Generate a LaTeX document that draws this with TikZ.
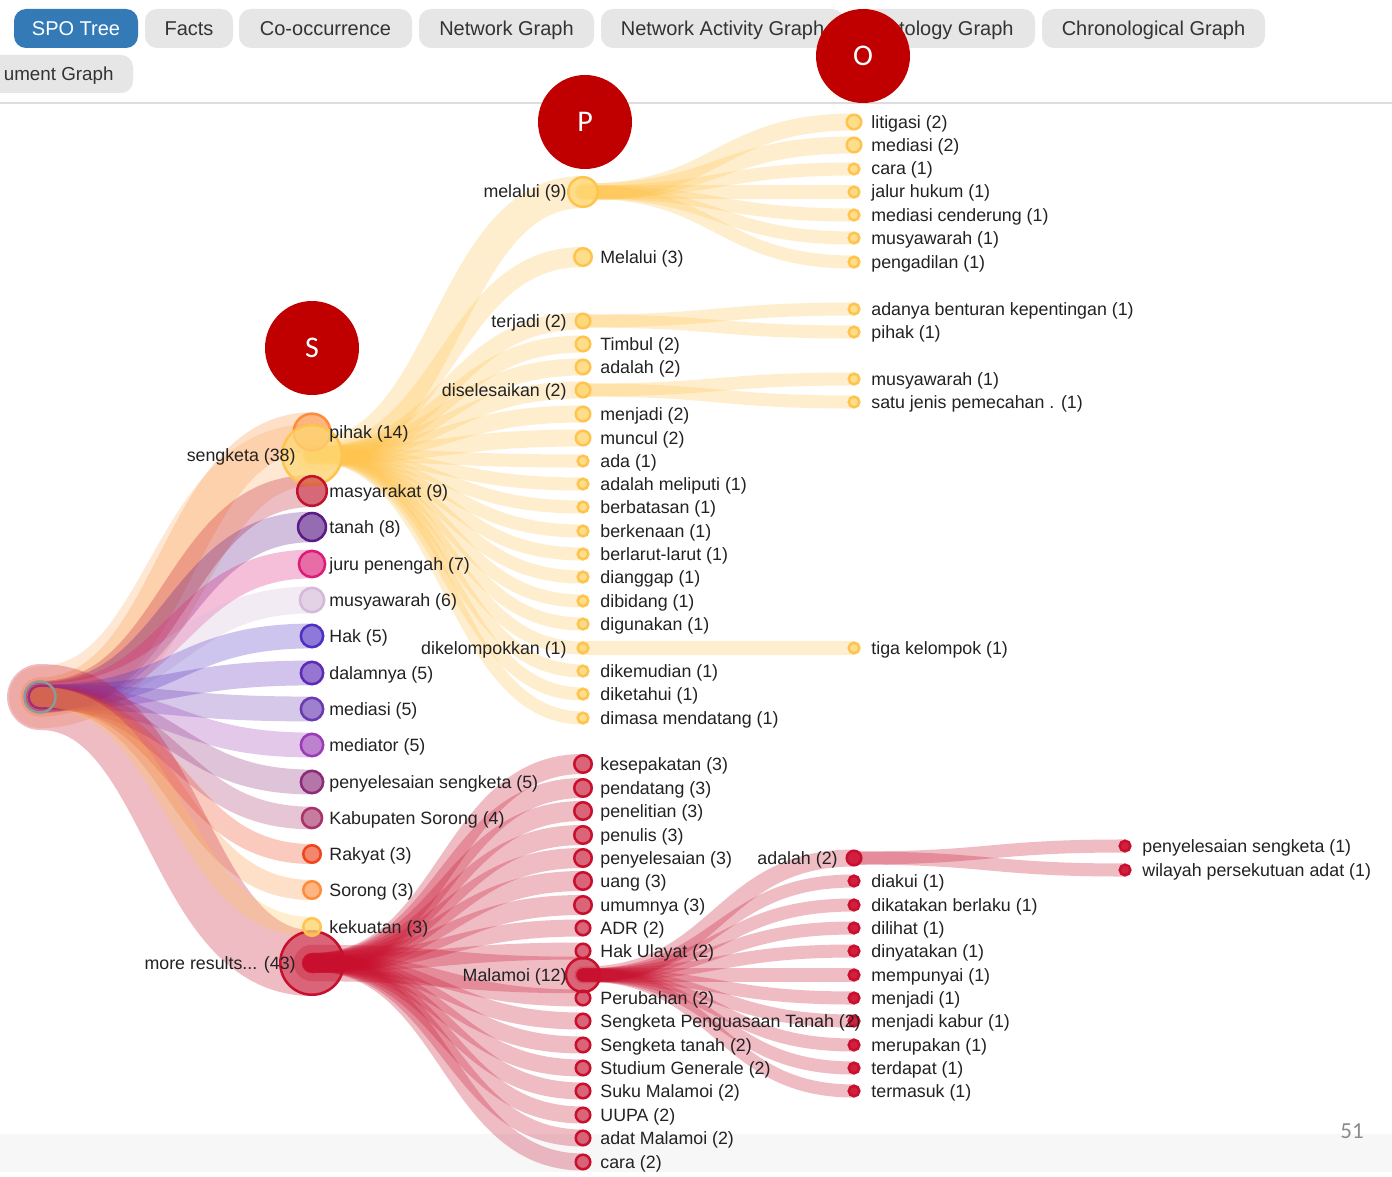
\documentclass[tikz,border=0pt]{standalone}
\usepackage{fontspec}
\setmainfont{Liberation Sans}
\newfontfamily\calfont{Carlito}
\usetikzlibrary{calc}
\pgfdeclarelayer{back}
\pgfdeclarelayer{links}
\pgfdeclarelayer{labels}
\pgfdeclarelayer{top}
\pgfsetlayers{back,links,main,labels,top}
\definecolor{txt}{HTML}{222222}
\definecolor{tabtxt}{HTML}{333333}
\definecolor{tabgray}{HTML}{E6E6E6}
\definecolor{tabblue}{HTML}{337AB7}
\definecolor{sepgray}{HTML}{DDDDDD}
\definecolor{bandgray}{HTML}{F7F7F7}
\definecolor{pagegray}{HTML}{8C8C8C}
\definecolor{markred}{HTML}{C00000}
\definecolor{rootgray}{HTML}{8A9A98}
\definecolor{cOr}{HTML}{FD8D3C}
\definecolor{cSeng}{HTML}{FDAE61}
\definecolor{cYel}{HTML}{FEC44F}
\definecolor{cYelF}{HTML}{FED976}
\definecolor{cRed}{HTML}{C8102E}
\definecolor{cLeaf}{HTML}{D11F40}
\definecolor{cMasy}{HTML}{C0142D}
\definecolor{cTanah}{HTML}{5B1A86}
\definecolor{cJuru}{HTML}{DD1C77}
\definecolor{cMusy}{HTML}{D4B9DA}
\definecolor{cHak}{HTML}{4F2FC2}
\definecolor{cDalam}{HTML}{5D2BB8}
\definecolor{cMedi}{HTML}{6A3AB3}
\definecolor{cMedr}{HTML}{9B3CB7}
\definecolor{cPeny}{HTML}{8B2B7A}
\definecolor{cKab}{HTML}{A8326A}
\definecolor{cRak}{HTML}{F0441B}
\definecolor{cSor}{HTML}{FD8D3C}
\tikzset{
  nd/.style={circle, inner sep=0pt, line width=1.25pt},
  ringnode/.style={nd, draw=#1, fill=#1, fill opacity=0.5},
  yelnode/.style={nd, draw=cYel, fill=cYelF, fill opacity=0.75},
  soliddot/.style={nd, draw=cRed, fill=cLeaf},
  linkband/.style={draw opacity=0.28, line cap=round},
  lbl/.style={inner sep=0pt, text=txt, font=\fontsize{8.9}{10.7}\selectfont},
  tabbox/.style={rectangle, rounded corners=6pt, fill=tabgray, text=tabtxt, inner sep=0pt,
    minimum height=19.5pt, text height=7.2pt, text depth=0pt, font=\fontsize{10}{12}\selectfont},
  markc/.style={circle, fill=markred, minimum size=47pt, inner sep=0pt, text=white,
    text height=9.6pt, text depth=0pt, font=\calfont\fontsize{15}{18}\selectfont}
}
\newcommand\spo[9]{%
  \pgfmathsetmacro\spor{1.76+4.76*sqrt(#5)}%
  \pgfmathsetmacro\spod{\spor-1.25}%
  \node[#6, minimum size=\spod pt] (#2) at (#3,#4) {};
  \begin{pgfonlayer}{links}
    \draw[linkband, line width=\spor pt, draw=#7] (#1.center) to[out=0,in=180,distance=68pt] (#2.center);
  \end{pgfonlayer}
  \begin{pgfonlayer}{labels}
    \if l#8\relax
      \node[lbl, anchor=base east] (#2-t) at ($(#2.center)+(-16,6)$) {#9};
    \else
      \node[lbl, anchor=base west] (#2-t) at ($(#2.center)+(17,6)$) {#9};
    \fi
  \end{pgfonlayer}
}
\begin{document}
\begin{tikzpicture}[x=0.5pt,y=-0.5pt]
\useasboundingbox (0,0) rectangle (1392,1177);
\begin{pgfonlayer}{back}
  \fill[white] (0,0) rectangle (1392,1177);
  \fill[bandgray] (0,1134) rectangle (1392,1172);
  \draw[sepgray, line width=0.75pt] (0,103) -- (1392,103);
  \node[tabbox, fill=tabblue, text=white, minimum width=62pt] (tab1) at (76,28.5) {SPO Tree};
  \node[tabbox, minimum width=44pt] (tab2) at (189,28.5) {Facts};
  \node[tabbox, minimum width=86.5pt] (tab3) at (325.5,28.5) {Co-occurrence};
  \node[tabbox, minimum width=87.5pt] (tab4) at (506.5,28.5) {Network Graph};
  \node[tabbox, minimum width=121.5pt] (tab5) at (722.5,28.5) {Network Activity Graph};
  \node[tabbox, minimum width=92pt] (tab6) at (943,28.5) {Ontology Graph};
  \node[tabbox, minimum width=111.5pt] (tab7) at (1153.5,28.5) {Chronological Graph};
  \begin{scope}
    \clip (0,0) rectangle (1392,1177);
    \node[tabbox, minimum width=86.5pt, minimum height=19pt] (tab8) at (46.5,74) {};
  \end{scope}
  \node[inner sep=0pt, text=tabtxt, anchor=east, text height=7pt, text depth=0pt,
    font=\fontsize{9.4}{11}\selectfont] (tab8t) at (114,74) {ument Graph};
\end{pgfonlayer}

\node[circle, draw=rootgray, line width=1.25pt, minimum size=15.5pt, inner sep=0pt] (root) at (40,697) {};

% level 1
\spo{root}{pihak}{312}{432}{14}{ringnode=cOr}{cOr}{r}{pihak (14)}
\spo{root}{seng}{312}{455}{38}{yelnode}{cSeng}{l}{sengketa (38)}
\spo{root}{masy}{312}{491}{9}{ringnode=cMasy}{cMasy}{r}{masyarakat (9)}
\spo{root}{tanah}{312}{527}{8}{ringnode=cTanah}{cTanah}{r}{tanah (8)}
\spo{root}{juru}{312}{564}{7}{ringnode=cJuru}{cJuru}{r}{juru penengah (7)}
\spo{root}{musy}{312}{600}{6}{ringnode=cMusy}{cMusy}{r}{musyawarah (6)}
\spo{root}{hak}{312}{636}{5}{ringnode=cHak}{cHak}{r}{Hak (5)}
\spo{root}{dalam}{312}{673}{5}{ringnode=cDalam}{cDalam}{r}{dalamnya (5)}
\spo{root}{medi}{312}{709}{5}{ringnode=cMedi}{cMedi}{r}{mediasi (5)}
\spo{root}{medr}{312}{745}{5}{ringnode=cMedr}{cMedr}{r}{mediator (5)}
\spo{root}{peny}{312}{782}{5}{ringnode=cPeny}{cPeny}{r}{penyelesaian sengketa (5)}
\spo{root}{kab}{312}{818}{4}{ringnode=cKab}{cKab}{r}{Kabupaten Sorong (4)}
\spo{root}{rak}{312}{854}{3}{ringnode=cRak}{cRak}{r}{Rakyat (3)}
\spo{root}{sor}{312}{890}{3}{ringnode=cSor}{cSor}{r}{Sorong (3)}
\spo{root}{more}{312}{963}{43}{ringnode=cRed}{cRed}{l}{more results... (43)}
\spo{root}{kek}{312}{927}{3}{yelnode}{cYel}{r}{kekuatan (3)}

% level 2, yellow branch
\spo{seng}{melalui}{583}{192}{9}{yelnode}{cYel}{l}{melalui (9)}
\spo{seng}{melaluiB}{583}{257}{3}{yelnode}{cYel}{r}{Melalui (3)}
\spo{seng}{terjadi}{583}{321}{2}{yelnode}{cYel}{l}{terjadi (2)}
\spo{seng}{timbul}{583}{344}{2}{yelnode}{cYel}{r}{Timbul (2)}
\spo{seng}{adalahY}{583}{367}{2}{yelnode}{cYel}{r}{adalah (2)}
\spo{seng}{disel}{583}{390}{2}{yelnode}{cYel}{l}{diselesaikan (2)}
\spo{seng}{menjadiY}{583}{414}{2}{yelnode}{cYel}{r}{menjadi (2)}
\spo{seng}{muncul}{583}{438}{2}{yelnode}{cYel}{r}{muncul (2)}
\spo{seng}{ada}{583}{461}{1}{yelnode}{cYel}{r}{ada (1)}
\spo{seng}{adalahm}{583}{484}{1}{yelnode}{cYel}{r}{adalah meliputi (1)}
\spo{seng}{berbatasan}{583}{507}{1}{yelnode}{cYel}{r}{berbatasan (1)}
\spo{seng}{berkenaan}{583}{531}{1}{yelnode}{cYel}{r}{berkenaan (1)}
\spo{seng}{berlarut}{583}{554}{1}{yelnode}{cYel}{r}{berlarut-larut (1)}
\spo{seng}{dianggap}{583}{577}{1}{yelnode}{cYel}{r}{dianggap (1)}
\spo{seng}{dibidang}{583}{601}{1}{yelnode}{cYel}{r}{dibidang (1)}
\spo{seng}{digunakan}{583}{624}{1}{yelnode}{cYel}{r}{digunakan (1)}
\spo{seng}{dikel}{583}{648}{1}{yelnode}{cYel}{l}{dikelompokkan (1)}
\spo{seng}{dikemudian}{583}{671}{1}{yelnode}{cYel}{r}{dikemudian (1)}
\spo{seng}{diketahui}{583}{694}{1}{yelnode}{cYel}{r}{diketahui (1)}
\spo{seng}{dimasa}{583}{718}{1}{yelnode}{cYel}{r}{dimasa mendatang (1)}

% level 3, yellow branch
\spo{melalui}{litigasi}{854}{122}{2}{yelnode}{cYel}{r}{litigasi (2)}
\spo{melalui}{mediasiY}{854}{145}{2}{yelnode}{cYel}{r}{mediasi (2)}
\spo{melalui}{caraY}{854}{169}{1}{yelnode}{cYel}{r}{cara (1)}
\spo{melalui}{jalur}{854}{192}{1}{yelnode}{cYel}{r}{jalur hukum (1)}
\spo{melalui}{medcend}{854}{215}{1}{yelnode}{cYel}{r}{mediasi cenderung (1)}
\spo{melalui}{musyA}{854}{238}{1}{yelnode}{cYel}{r}{musyawarah (1)}
\spo{melalui}{pengadilan}{854}{262}{1}{yelnode}{cYel}{r}{pengadilan (1)}
\spo{terjadi}{adanya}{854}{309}{1}{yelnode}{cYel}{r}{adanya benturan kepentingan (1)}
\spo{terjadi}{pihakA}{854}{332}{1}{yelnode}{cYel}{r}{pihak (1)}
\spo{disel}{musyB}{854}{379}{1}{yelnode}{cYel}{r}{musyawarah (1)}
\spo{disel}{satu}{854}{402}{1}{yelnode}{cYel}{r}{satu jenis pemecahan . (1)}
\spo{dikel}{tiga}{854}{648}{1}{yelnode}{cYel}{r}{tiga kelompok (1)}

% level 2, red branch
\spo{more}{kesep}{583}{764}{3}{ringnode=cRed}{cRed}{r}{kesepakatan (3)}
\spo{more}{pendatang}{583}{788}{3}{ringnode=cRed}{cRed}{r}{pendatang (3)}
\spo{more}{penelitian}{583}{811}{3}{ringnode=cRed}{cRed}{r}{penelitian (3)}
\spo{more}{penulis}{583}{835}{3}{ringnode=cRed}{cRed}{r}{penulis (3)}
\spo{more}{penyelR}{583}{858}{3}{ringnode=cRed}{cRed}{r}{penyelesaian (3)}
\spo{more}{uang}{583}{881}{3}{ringnode=cRed}{cRed}{r}{uang (3)}
\spo{more}{umumnya}{583}{905}{3}{ringnode=cRed}{cRed}{r}{umumnya (3)}
\spo{more}{adr}{583}{928}{2}{ringnode=cRed}{cRed}{r}{ADR (2)}
\spo{more}{hakul}{583}{951}{2}{ringnode=cRed}{cRed}{r}{Hak Ulayat (2)}
\spo{more}{malamoi}{583}{975}{12}{ringnode=cRed}{cRed}{l}{Malamoi (12)}
\spo{more}{perubahan}{583}{998}{2}{ringnode=cRed}{cRed}{r}{Perubahan (2)}
\spo{more}{spt}{583}{1021}{2}{ringnode=cRed}{cRed}{r}{Sengketa Penguasaan Tanah (2)}
\spo{more}{stanah}{583}{1045}{2}{ringnode=cRed}{cRed}{r}{Sengketa tanah (2)}
\spo{more}{studium}{583}{1068}{2}{ringnode=cRed}{cRed}{r}{Studium Generale (2)}
\spo{more}{suku}{583}{1091}{2}{ringnode=cRed}{cRed}{r}{Suku Malamoi (2)}
\spo{more}{uupa}{583}{1115}{2}{ringnode=cRed}{cRed}{r}{UUPA (2)}
\spo{more}{adat}{583}{1138}{2}{ringnode=cRed}{cRed}{r}{adat Malamoi (2)}
\spo{more}{caraR}{583}{1162}{2}{ringnode=cRed}{cRed}{r}{cara (2)}

% level 3, red branch
\spo{malamoi}{adalahR}{854}{858}{2}{soliddot}{cRed}{l}{adalah (2)}
\spo{malamoi}{diakui}{854}{881}{1}{soliddot}{cRed}{r}{diakui (1)}
\spo{malamoi}{dikatakan}{854}{905}{1}{soliddot}{cRed}{r}{dikatakan berlaku (1)}
\spo{malamoi}{dilihat}{854}{928}{1}{soliddot}{cRed}{r}{dilihat (1)}
\spo{malamoi}{dinyatakan}{854}{951}{1}{soliddot}{cRed}{r}{dinyatakan (1)}
\spo{malamoi}{mempunyai}{854}{975}{1}{soliddot}{cRed}{r}{mempunyai (1)}
\spo{malamoi}{menjadiR}{854}{998}{1}{soliddot}{cRed}{r}{menjadi (1)}
\spo{malamoi}{kabur}{854}{1021}{1}{soliddot}{cRed}{r}{menjadi kabur (1)}
\spo{malamoi}{merupakan}{854}{1045}{1}{soliddot}{cRed}{r}{merupakan (1)}
\spo{malamoi}{terdapat}{854}{1068}{1}{soliddot}{cRed}{r}{terdapat (1)}
\spo{malamoi}{termasuk}{854}{1091}{1}{soliddot}{cRed}{r}{termasuk (1)}

% level 4
\spo{adalahR}{penysg}{1125}{846}{1}{soliddot}{cRed}{r}{penyelesaian sengketa (1)}
\spo{adalahR}{wilayah}{1125}{870}{1}{soliddot}{cRed}{r}{wilayah persekutuan adat (1)}

\begin{pgfonlayer}{top}
  \node[markc] (markO) at (863,56) {O};
  \node[markc] (markP) at (585,122) {P};
  \node[markc] (markS) at (312,348) {S};
  \node[inner sep=0pt, text=pagegray, font=\calfont\fontsize{11.5}{13}\selectfont] (pagenum) at (1352,1131) {51};
\end{pgfonlayer}
\end{tikzpicture}
\end{document}
